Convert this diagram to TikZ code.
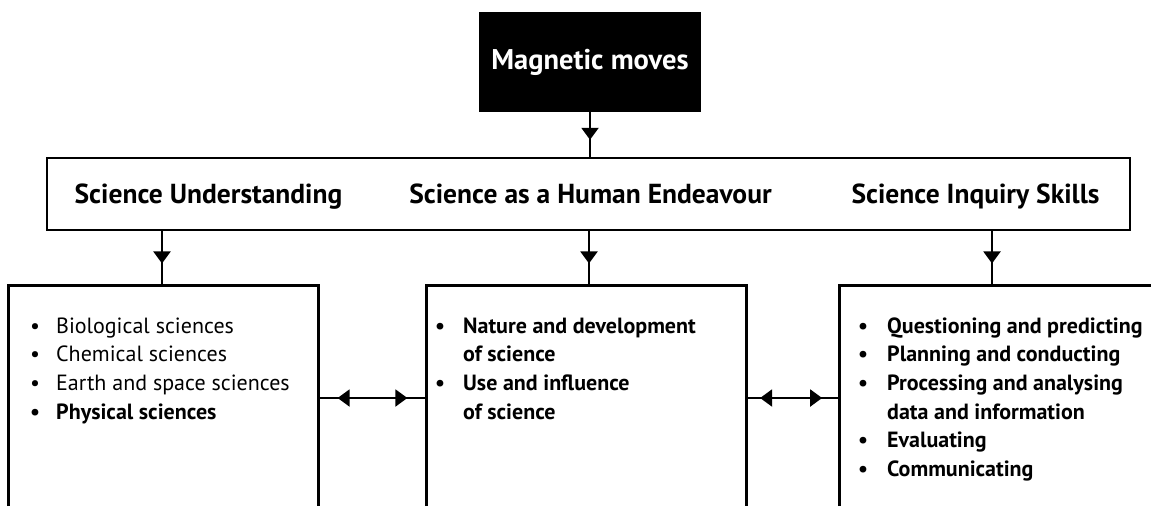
\documentclass[tikz,border=0pt]{standalone}
\usepackage{fontspec}
\setmainfont{PT Sans}
\usetikzlibrary{arrows.meta,decorations.markings}
\begin{document}
\begin{tikzpicture}[x=1pt,y=-1pt,
  boxline/.style={line width=3pt},
  conn/.style={line width=2pt},
  midarrow/.style={postaction={decorate},decoration={markings,
     mark=at position #1 with {\arrow{Triangle[length=12pt,width=17pt]}}}},
  twoarrow/.style 2 args={postaction={decorate},decoration={markings,
     mark=at position #1 with {\arrowreversed{Triangle[length=12pt,width=17pt]}},
     mark=at position #2 with {\arrow{Triangle[length=12pt,width=17pt]}}}},
  hd/.style={font=\fontsize{27.5}{32}\selectfont\bfseries, inner sep=0pt, anchor=base},
  lst/.style={font=\fontsize{22}{28.7}\selectfont, inner sep=0pt, anchor=base west},
  area/.style={minimum width=#1, minimum height=220pt, inner sep=0pt},
]
\useasboundingbox (0,0) rectangle (1151,506);

% title
\node[fill=black, text=white, minimum width=222pt, minimum height=100pt, inner sep=0pt,
      font=\fontsize{28.5}{34}\selectfont\bfseries] (title) at (590,62) {Magnetic moves};

% header box
\node[draw, line width=2.5pt, minimum width=1083pt, minimum height=72pt, inner sep=0pt] (head) at (588.5,194) {};
\node[hd] (su) at (208.5,203) {Science Understanding};
\node[hd] (sh) at (590.5,203) {Science as a Human Endeavour};
\node[hd] (si) at (975.5,203) {Science Inquiry Skills};

% lower boxes (open at bottom)
\node[area=309pt] (L) at (163.5,396) {};
\node[area=319pt] (M) at (586.5,396) {};
\node[area=311pt] (R) at (995.5,396) {};
\draw[boxline] (L.south west) |- (L.north east) -- (L.south east);
\draw[boxline] (M.south west) |- (M.north east) -- (M.south east);
\draw[boxline] (R.south west) |- (R.north east);

% connectors
\draw[conn, midarrow=0.62] (title.south) -- (title.south |- head.north);
\coordinate (a1) at (162,230); \coordinate (a2) at (589,230); \coordinate (a3) at (992,230);
\draw[conn, midarrow=0.6] (a1) -- (a1 |- L.north);
\draw[conn, midarrow=0.6] (a2) -- (a2 |- M.north);
\draw[conn, midarrow=0.6] (a3) -- (a3 |- R.north);
\coordinate (h1) at (318,398); \coordinate (h2) at (427,398);
\coordinate (h3) at (746,398); \coordinate (h4) at (840,398);
\draw[conn, twoarrow={0.18}{0.82}] (h1) -- (h2);
\draw[conn, twoarrow={0.15}{0.81}] (h3) -- (h4);

% lists
\node[lst] (Lt) at (30,333) {\begin{tabular}[t]{@{}p{26pt}@{}l@{}}
•& Biological sciences\\
•& Chemical sciences\\
•& Earth and space sciences\\
\textbf{•}& \textbf{Physical sciences}
\end{tabular}};
\node[lst] (Mt) at (435,333) {\bfseries\begin{tabular}[t]{@{}p{28pt}@{}l@{}}
•& Nature and development\\
 & of science\\
•& Use and influence\\
 & of science
\end{tabular}};
\node[lst] (Rt) at (858,333) {\bfseries\begin{tabular}[t]{@{}p{29pt}@{}l@{}}
•& Questioning and predicting\\
•& Planning and conducting\\
•& Processing and analysing\\
 & data and information\\
•& Evaluating\\
•& Communicating
\end{tabular}};
\end{tikzpicture}
\end{document}
